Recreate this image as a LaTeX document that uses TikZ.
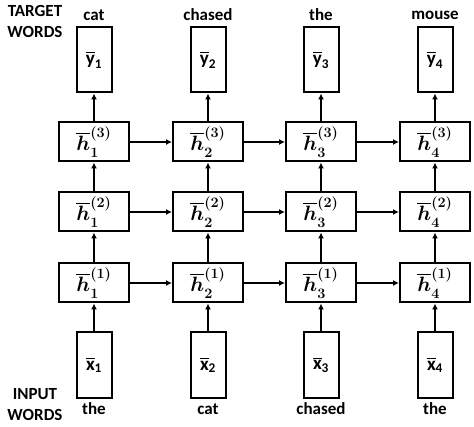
\documentclass[tikz,border=0pt]{standalone}
\usepackage{fontspec,amsmath}
\setmainfont{Carlito}
\usetikzlibrary{arrows.meta,positioning}

\begin{document}
\begin{tikzpicture}[x=1pt,y=1pt,
  hbox/.style={draw, line width=2pt, minimum width=70pt, minimum height=39pt, inner sep=0pt, font=\fontsize{22}{26}\selectfont\boldmath},
  vbox/.style={draw, line width=2pt, minimum width=35pt, minimum height=65pt, inner sep=0pt, font=\fontsize{19}{22}\selectfont\bfseries\boldmath},
  word/.style={font=\fontsize{17}{21}\selectfont\bfseries, inner sep=0pt},
  link/.style={-{Latex[length=6pt,width=6pt]}, line width=2pt}]
  \useasboundingbox (0,0) rectangle (474,426);

  %% Side labels
  \node[word, align=center] (target) at (35,405) {TARGET\\WORDS};
  \node[word, align=center] (input)  at (35,21)  {INPUT\\WORDS};

  %% Columns: inputs, three hidden layers, outputs
  \foreach \i/\xc/\tw/\iw in {1/94/cat/the, 2/208/chased/cat, 3/321/the/chased, 4/435/mouse/the} {
    \node[vbox] (x\i) at (\xc,61)  {$\overline{\text{x}}_{\text{\i}}$};
    \node[hbox] (h1\i) at (\xc,143) {$\overline{h}^{(1)}_{\i}$};
    \node[hbox] (h2\i) at (\xc,214) {$\overline{h}^{(2)}_{\i}$};
    \node[hbox] (h3\i) at (\xc,284) {$\overline{h}^{(3)}_{\i}$};
    \node[vbox] (y\i) at (\xc,366) {$\overline{\text{y}}_{\text{\i}}$};
    \node[word] (tw\i) at (\xc,411) {\tw};
    \node[word] (iw\i) at (\xc,17)  {\iw};

    \draw[link] (x\i) -- (h1\i);
    \draw[link] (h1\i) -- (h2\i);
    \draw[link] (h2\i) -- (h3\i);
    \draw[link] (h3\i) -- (y\i);
  }

  %% Recurrent links
  \foreach \l in {1,2,3} {
    \foreach \i/\j in {1/2, 2/3, 3/4} {
      \draw[link] (h\l\i) -- (h\l\j);
    }
  }
\end{tikzpicture}
\end{document}
